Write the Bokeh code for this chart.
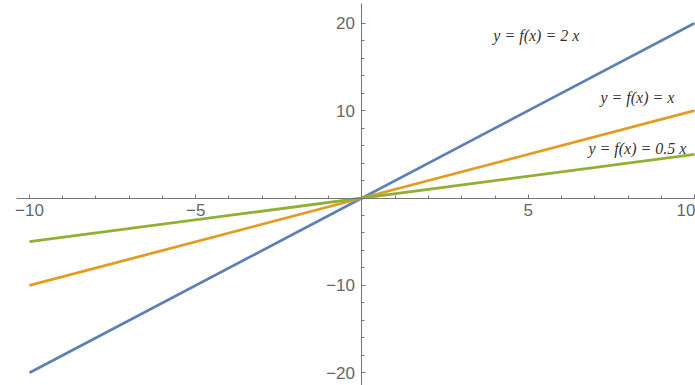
from bokeh.plotting import figure
from bokeh.models import Range1d, FixedTicker, ColumnDataSource
from bokeh.core.properties import value
from bokeh.embed import file_html
from bokeh.resources import INLINE

# data
x_vals = [-10, 10]
y_2x = [-20, 20]
y_1x = [-10, 10]
y_half = [-5, 5]

label_texts = ["y = f(x) = 2 x", "y = f(x) = x", "y = f(x) = 0.5 x"]
label_x = [3.95, 7.17, 6.81]
label_y = [18.6, 11.5, 5.66]

x_major = [-10, -5, 5, 10]
x_minor = [v for v in range(-10, 11) if v not in (-10, -5, 0, 5, 10)]
y_major = [-20, -10, 10, 20]
y_minor = [v for v in range(-20, 21, 2) if v % 10 != 0]

p = figure(width=695, height=385, output_backend="svg", toolbar_location=None,
           x_range=Range1d(-10.872, 10.03), y_range=Range1d(-21.45, 22.60),
           min_border=0, min_border_left=0, min_border_right=0,
           min_border_top=0, min_border_bottom=0)
p.outline_line_color = None
p.grid.visible = False
p.background_fill_color = "white"
p.border_fill_color = "white"

blue = "#5E81B5"
orange = "#E19C24"
green = "#8FB032"

p.line(x_vals, y_2x, line_color=blue, line_width=2.8)
p.line(x_vals, y_1x, line_color=orange, line_width=2.8)
p.line(x_vals, y_half, line_color=green, line_width=2.8)

src = ColumnDataSource(dict(x=label_x, y=label_y, t=label_texts))
p.text(x="x", y="y", text="t", source=src, text_font=value("Liberation Serif"),
       text_font_style="italic", text_font_size="16px", text_color="#333333",
       text_baseline="middle", text_align="left")

axis_color = "#777777"
label_color = "#666666"

xa = p.xaxis[0]
xa.fixed_location = 0
xa.bounds = (-10.39, 11)
xa.ticker = FixedTicker(ticks=x_major, minor_ticks=x_minor)
xa.major_tick_in = 4
xa.major_tick_out = 0
xa.minor_tick_in = 3
xa.minor_tick_out = 0
xa.major_label_standoff = 6
xa.major_label_overrides = {-10: "\u221210", -5: "\u22125", 5: "5", 10: "10"}
xa.axis_line_color = axis_color
xa.major_tick_line_color = axis_color
xa.minor_tick_line_color = axis_color
xa.major_label_text_color = label_color
xa.major_label_text_font = "Liberation Sans"
xa.major_label_text_font_size = "17px"

ya = p.yaxis[0]
ya.fixed_location = 0
ya.bounds = (-30, 22.3)
ya.ticker = FixedTicker(ticks=y_major, minor_ticks=y_minor)
ya.major_tick_in = 4
ya.major_tick_out = 0
ya.minor_tick_in = 3
ya.minor_tick_out = 0
ya.major_label_standoff = 7
ya.major_label_overrides = {-20: "\u221220", -10: "\u221210", 10: "10", 20: "20"}
ya.axis_line_color = axis_color
ya.major_tick_line_color = axis_color
ya.minor_tick_line_color = axis_color
ya.major_label_text_color = label_color
ya.major_label_text_font = "Liberation Sans"
ya.major_label_text_font_size = "17px"

open("out.html", "w").write(file_html(p, INLINE))
